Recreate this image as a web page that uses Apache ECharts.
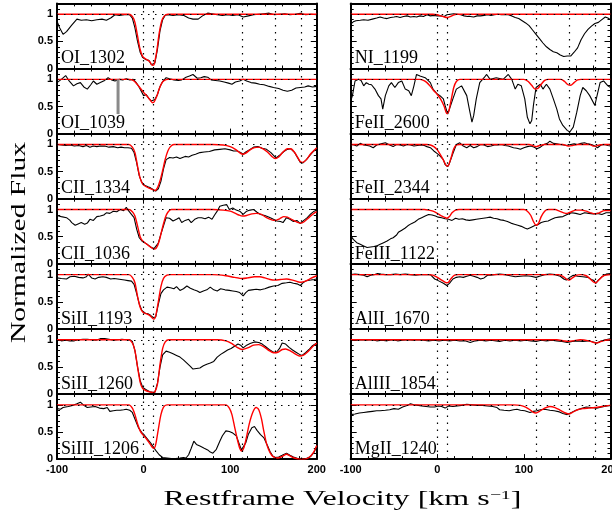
<!DOCTYPE html>
<html><head><meta charset="utf-8">
<script src="https://cdn.jsdelivr.net/npm/echarts@6/dist/echarts.min.js"></script>
<style>html,body{margin:0;padding:0;background:#fff;overflow:hidden}#c{width:612px;height:516px}</style>
</head><body><div id="c"></div>
<script>
// ---------------- DATA (velocity km/s, normalized flux) ----------------
const leftLabels  = ['OI_1302','OI_1039','CII_1334','CII_1036','SiII_1193','SiII_1260','SiIII_1206'];
const rightLabels = ['NI_1199','FeII_2600','FeII_2344','FeIII_1122','AlII_1670','AlIII_1854','MgII_1240'];
const velocityLines = [0, 11, 114, 152, 182];
const continuumLevel = 1;
const xTickLabels = [-100, 0, 100, 200];
const yTickLabels = [0, 0.5, 1];
const xTitleMain = 'Restframe Velocity [km s';
const xTitleSup = '\u22121';
const xTitleEnd = ']';
const yTitle = 'Normalized Flux';

const OI_1302_flux = [[-100,0.87],[-97,0.75],[-93,0.63],[-89,0.68],[-83,0.8],[-77,0.91],[-72,0.89],[-66,0.9],[-60,0.88],[-54,0.9],[-48,0.91],[-43,0.89],[-38,0.93],[-33,0.99],[-28,0.98],[-22,0.99],[-16,0.99],[-13,0.93],[-10,0.75],[-7,0.5],[-4,0.3],[-1,0.2],[3,0.16],[6,0.15],[9,0.07],[11,0.04],[13,0.1],[16,0.35],[19,0.7],[22,0.9],[25,0.98],[28,0.99],[34,0.98],[40,0.99],[46,0.98],[52,0.93],[57,0.91],[63,0.91],[68,0.97],[74,1.02],[79,1.01],[85,0.99],[91,0.98],[97,0.99],[103,0.98],[109,0.99],[115,0.95],[121,0.97],[127,0.99],[133,1.0],[139,1.01],[145,1.02],[151,0.99],[157,1.0],[163,1.01],[169,0.99],[175,1.0],[181,1.02],[187,0.99],[193,1.0],[200,0.99]];
const OI_1302_model = [[-100,1],[-17,1],[-13,0.96],[-10,0.85],[-7,0.6],[-4,0.35],[-1,0.22],[3,0.17],[7,0.13],[10,0.06],[12,0.07],[15,0.3],[18,0.65],[21,0.88],[24,0.97],[28,1],[60,1],[200,1]];

const OI_1039_flux = [[-100,0.94],[-95,1.0],[-90,1.07],[-86,0.97],[-81,0.88],[-77,0.92],[-73,0.94],[-69,0.86],[-65,0.82],[-61,0.9],[-58,0.97],[-54,0.91],[-50,0.94],[-45,0.98],[-41,1.03],[-37,0.99],[-33,0.97],[-28,1.0],[-24,0.99],[-20,1.01],[-16,0.99],[-12,1.0],[-9,0.95],[-6,0.88],[-3,0.79],[0,0.7],[3,0.72],[6,0.65],[9,0.6],[11,0.58],[13,0.63],[16,0.72],[19,0.87],[22,0.96],[26,1.03],[30,1.01],[35,0.99],[40,0.98],[44,0.99],[49,1.04],[53,1.06],[57,1.09],[62,1.02],[66,1.03],[70,1.05],[74,1.04],[78,0.99],[83,0.98],[88,0.97],[93,0.95],[98,0.93],[102,0.91],[106,0.95],[111,0.97],[115,1.0],[119,0.97],[124,0.94],[129,0.93],[134,0.91],[139,0.9],[145,0.87],[150,0.85],[156,0.83],[161,0.8],[166,0.78],[171,0.8],[176,0.84],[181,0.85],[186,0.86],[190,0.88],[195,0.86],[200,0.87]];
const OI_1039_model = [[-100,1],[-16,1],[-12,0.98],[-8,0.92],[-4,0.84],[0,0.76],[4,0.69],[8,0.61],[10,0.57],[12,0.58],[15,0.68],[18,0.82],[21,0.93],[24,0.98],[28,1],[60,1],[200,1]];
const OI_1039_blend = [[-29.5,1.0],[-29.5,0.36]];

const CII_1334_flux = [[-100,1.0],[-95,0.99],[-90,0.98],[-85,0.99],[-80,0.97],[-75,0.98],[-70,0.96],[-66,0.98],[-62,0.95],[-58,0.97],[-54,0.96],[-50,0.97],[-45,0.97],[-40,0.95],[-35,0.96],[-30,0.94],[-26,0.95],[-22,0.94],[-18,0.94],[-14,0.93],[-11,0.85],[-8,0.66],[-5,0.42],[-2,0.3],[1,0.25],[5,0.22],[8,0.2],[11,0.17],[14,0.14],[17,0.18],[20,0.32],[23,0.55],[26,0.72],[30,0.76],[34,0.75],[38,0.77],[42,0.74],[44,0.71],[48,0.78],[52,0.77],[56,0.8],[60,0.82],[65,0.85],[70,0.86],[76,0.87],[82,0.9],[88,0.91],[94,0.92],[100,0.9],[104,0.88],[108,0.88],[112,0.85],[115,0.82],[118,0.86],[122,0.9],[127,0.95],[132,0.96],[137,0.93],[142,0.91],[147,0.85],[150,0.8],[153,0.75],[157,0.8],[162,0.87],[166,0.91],[170,0.92],[174,0.86],[178,0.75],[181,0.67],[184,0.66],[188,0.72],[192,0.8],[196,0.87],[200,0.93]];
const CII_1334_model = [[-100,1],[-17,1],[-13,0.95],[-10,0.85],[-7,0.6],[-4,0.38],[-1,0.27],[3,0.22],[7,0.19],[10,0.17],[13,0.15],[16,0.2],[19,0.33],[22,0.52],[25,0.73],[28,0.88],[31,0.96],[35,1],[80,1],[92,0.99],[100,0.96],[106,0.91],[110,0.86],[114,0.82],[118,0.84],[123,0.9],[128,0.94],[133,0.95],[138,0.92],[143,0.86],[148,0.78],[152,0.74],[156,0.77],[161,0.86],[166,0.92],[170,0.92],[174,0.86],[178,0.76],[181,0.68],[184,0.67],[188,0.72],[193,0.83],[200,0.94]];

const CII_1036_flux = [[-100,0.89],[-95,0.87],[-89,0.85],[-85,0.8],[-83,0.76],[-79,0.71],[-75,0.74],[-72,0.76],[-68,0.73],[-65,0.75],[-62,0.82],[-58,0.8],[-54,0.87],[-50,0.88],[-46,0.9],[-43,0.94],[-39,0.93],[-35,0.97],[-31,0.96],[-27,1.0],[-23,0.98],[-20,1.04],[-17,0.97],[-14,0.91],[-11,0.85],[-8,0.64],[-5,0.48],[-2,0.42],[1,0.39],[5,0.35],[9,0.3],[12,0.28],[14,0.27],[17,0.38],[20,0.55],[23,0.7],[26,0.85],[30,0.84],[34,0.79],[38,0.82],[41,0.85],[44,0.76],[48,0.8],[52,0.82],[55,0.76],[59,0.82],[63,0.85],[67,0.85],[71,0.83],[75,0.86],[79,0.82],[82,0.9],[85,0.97],[88,1.06],[92,1.08],[96,1.09],[99,1.0],[103,1.03],[107,0.99],[111,0.97],[115,0.91],[119,0.97],[123,0.99],[127,1.0],[131,0.95],[135,0.91],[140,0.89],[145,0.86],[150,0.82],[154,0.79],[158,0.78],[161,0.76],[165,0.85],[169,0.82],[173,0.78],[177,0.8],[181,0.74],[185,0.8],[189,0.85],[193,0.92],[197,0.97],[200,0.99]];
const CII_1036_model = [[-100,1],[-17,1],[-13,0.96],[-10,0.88],[-7,0.7],[-4,0.5],[-1,0.42],[3,0.37],[7,0.32],[10,0.29],[13,0.27],[16,0.33],[19,0.48],[22,0.68],[25,0.85],[28,0.95],[32,1],[80,1],[92,0.99],[100,0.97],[106,0.93],[110,0.9],[114,0.88],[119,0.89],[125,0.92],[130,0.93],[136,0.91],[142,0.85],[148,0.81],[152,0.8],[157,0.83],[162,0.87],[166,0.86],[172,0.81],[177,0.77],[181,0.75],[185,0.77],[190,0.84],[195,0.91],[200,0.96]];

const SiII_1193_flux = [[-100,0.94],[-95,0.93],[-89,0.92],[-85,0.96],[-80,0.97],[-75,0.95],[-70,0.94],[-66,0.96],[-64,1.01],[-60,0.94],[-56,0.92],[-52,0.95],[-47,0.96],[-43,0.95],[-38,0.92],[-34,0.93],[-30,0.92],[-26,0.91],[-22,0.9],[-18,0.89],[-14,0.88],[-11,0.82],[-8,0.65],[-5,0.46],[-2,0.34],[2,0.29],[5,0.28],[8,0.25],[11,0.21],[12,0.18],[14,0.22],[17,0.45],[20,0.65],[23,0.72],[27,0.77],[31,0.76],[35,0.74],[38,0.78],[42,0.71],[46,0.74],[50,0.79],[54,0.75],[58,0.72],[62,0.7],[65,0.67],[69,0.7],[73,0.72],[77,0.77],[81,0.72],[85,0.7],[89,0.74],[94,0.72],[99,0.71],[103,0.7],[107,0.69],[111,0.67],[115,0.61],[118,0.67],[121,0.71],[125,0.72],[130,0.73],[135,0.72],[140,0.74],[145,0.77],[150,0.79],[155,0.8],[160,0.84],[165,0.85],[169,0.86],[173,0.84],[177,0.83],[181,0.8],[184,0.85],[188,0.89],[193,0.9],[197,0.91],[200,0.92]];
const SiII_1193_model = [[-100,1],[-17,1],[-13,0.95],[-10,0.85],[-7,0.6],[-4,0.4],[-1,0.31],[3,0.28],[7,0.25],[10,0.2],[12,0.18],[14,0.24],[17,0.5],[20,0.78],[23,0.93],[27,0.99],[31,1],[80,1],[95,0.98],[105,0.95],[114,0.93],[120,0.94],[128,0.96],[134,0.96],[140,0.94],[146,0.91],[152,0.9],[158,0.91],[165,0.92],[172,0.9],[178,0.87],[182,0.86],[187,0.88],[193,0.93],[200,0.98]];

const SiII_1260_flux = [[-100,1.0],[-95,0.98],[-90,0.99],[-85,0.98],[-80,0.98],[-75,1.0],[-70,1.01],[-65,1.01],[-60,1.0],[-55,0.99],[-50,1.02],[-45,1.02],[-40,1.01],[-35,0.99],[-30,1.0],[-25,1.01],[-20,1.0],[-16,1.0],[-13,0.97],[-10,0.8],[-7,0.5],[-4,0.25],[-1,0.12],[3,0.08],[7,0.04],[10,0.03],[13,0.03],[16,0.2],[19,0.5],[22,0.72],[26,0.79],[30,0.77],[34,0.74],[38,0.71],[42,0.68],[46,0.63],[50,0.57],[54,0.51],[57,0.46],[61,0.47],[65,0.48],[69,0.52],[73,0.55],[77,0.57],[81,0.6],[85,0.68],[89,0.73],[93,0.77],[97,0.81],[101,0.84],[105,0.88],[109,0.92],[112,0.9],[115,0.85],[119,0.9],[123,0.93],[128,0.96],[133,0.95],[137,0.92],[141,0.87],[145,0.82],[149,0.78],[153,0.76],[157,0.84],[160,0.94],[164,0.92],[168,0.86],[172,0.81],[176,0.77],[180,0.73],[183,0.71],[187,0.76],[191,0.82],[195,0.89],[200,0.94]];
const SiII_1260_model = [[-100,1],[-17,1],[-13,0.94],[-10,0.8],[-7,0.5],[-4,0.22],[-1,0.1],[3,0.06],[7,0.04],[10,0.03],[13,0.04],[16,0.18],[19,0.55],[22,0.84],[25,0.96],[29,1],[85,1],[95,0.98],[102,0.93],[108,0.86],[114,0.82],[120,0.85],[127,0.9],[133,0.91],[139,0.87],[145,0.8],[150,0.76],[155,0.77],[160,0.82],[164,0.83],[169,0.8],[175,0.74],[180,0.7],[184,0.71],[189,0.77],[195,0.87],[200,0.94]];

const SiIII_1206_flux = [[-100,0.93],[-96,0.92],[-93,0.95],[-87,0.97],[-82,0.99],[-77,1.02],[-73,1.05],[-69,0.99],[-65,0.95],[-61,0.96],[-56,0.97],[-51,0.94],[-46,0.93],[-42,0.95],[-39,0.88],[-35,0.89],[-31,0.9],[-27,0.9],[-23,0.91],[-20,0.92],[-16,0.9],[-13,0.86],[-10,0.74],[-6,0.58],[-2,0.49],[1,0.44],[4,0.38],[8,0.3],[11,0.23],[14,0.16],[18,0.08],[22,0.03],[27,0.02],[32,0.01],[37,0.01],[42,0.02],[46,0.03],[49,0.02],[52,0.08],[55,0.2],[58,0.33],[61,0.27],[65,0.24],[70,0.2],[74,0.17],[77,0.13],[80,0.11],[84,0.18],[88,0.33],[91,0.43],[95,0.52],[99,0.51],[103,0.48],[107,0.43],[110,0.3],[113,0.17],[115,0.15],[118,0.3],[121,0.46],[125,0.58],[128,0.6],[131,0.53],[135,0.45],[139,0.39],[143,0.25],[146,0.14],[149,0.06],[152,0.03],[156,0.04],[160,0.07],[165,0.11],[169,0.07],[173,0.04],[178,0.01],[183,0.0],[188,0.01],[193,0.05],[197,0.13],[200,0.24]];
const SiIII_1206_model = [[-100,1],[-17,1],[-13,0.94],[-10,0.82],[-7,0.65],[-4,0.52],[-1,0.45],[3,0.38],[7,0.29],[10,0.22],[12,0.2],[14,0.27],[17,0.55],[20,0.82],[23,0.96],[27,1],[95,1],[99,0.94],[102,0.82],[105,0.6],[108,0.38],[111,0.2],[113,0.15],[116,0.22],[119,0.42],[122,0.65],[126,0.86],[130,0.95],[133,0.91],[136,0.75],[139,0.5],[142,0.28],[146,0.12],[150,0.04],[155,0.02],[160,0.05],[165,0.09],[169,0.06],[174,0.02],[180,0.0],[186,0.0],[191,0.03],[196,0.12],[200,0.25]];

const NI_1199_flux = [[-100,0.82],[-97,0.86],[-94,0.88],[-89,0.89],[-85,0.9],[-80,0.89],[-75,0.91],[-70,0.93],[-66,0.95],[-62,0.93],[-58,0.92],[-54,0.94],[-50,0.95],[-47,0.96],[-43,0.94],[-39,0.96],[-35,0.97],[-31,0.95],[-27,0.96],[-24,0.95],[-20,0.97],[-16,0.96],[-12,0.99],[-8,0.97],[-4,0.98],[0,0.97],[4,0.97],[8,0.96],[11,0.99],[15,1.0],[19,1.01],[23,1.0],[27,0.99],[31,0.97],[35,0.96],[38,0.96],[42,0.95],[46,0.97],[50,0.97],[54,0.98],[58,0.99],[62,0.98],[66,0.99],[70,1.0],[74,0.99],[78,0.99],[82,0.99],[86,0.97],[90,0.94],[94,0.92],[98,0.88],[102,0.84],[106,0.79],[110,0.71],[114,0.63],[118,0.55],[122,0.47],[126,0.4],[130,0.35],[134,0.31],[138,0.29],[142,0.25],[146,0.22],[150,0.23],[154,0.23],[158,0.3],[162,0.38],[166,0.53],[170,0.64],[174,0.72],[178,0.78],[182,0.83],[186,0.85],[190,0.9],[194,0.95],[197,0.93],[200,0.9]];
const NI_1199_model = [[-100,1],[-5,1],[0,0.99],[4,0.97],[8,0.95],[11,0.94],[14,0.95],[18,0.98],[22,1],[60,1],[200,1]];

const FeII_2600_flux = [[-100,0.6],[-98,0.7],[-95,0.97],[-91,1.0],[-88,0.98],[-85,0.88],[-82,0.94],[-79,0.91],[-76,0.9],[-72,0.82],[-68,0.7],[-65,0.64],[-63,0.45],[-60,0.7],[-56,0.88],[-53,0.94],[-49,0.85],[-45,0.94],[-41,0.97],[-37,0.82],[-33,0.79],[-30,0.7],[-27,0.88],[-24,1.09],[-20,1.06],[-14,1.03],[-8,0.94],[-5,0.82],[0,0.73],[3,0.7],[7,0.64],[9,0.52],[12,0.36],[14,0.45],[18,0.64],[22,0.82],[28,0.88],[32,0.76],[34,0.7],[37,0.45],[40,0.21],[42,0.33],[45,0.64],[49,0.94],[54,1.03],[57,1.09],[61,1.0],[68,1.03],[76,1.0],[82,1.09],[86,1.0],[90,0.82],[93,0.91],[97,0.88],[101,0.64],[104,0.3],[107,0.18],[109,0.24],[111,0.52],[114,0.85],[119,0.91],[122,0.82],[126,0.91],[130,0.82],[134,0.64],[138,0.45],[141,0.27],[145,0.15],[150,0.06],[153,0.03],[157,0.12],[161,0.39],[165,0.7],[168,0.85],[172,0.79],[176,0.7],[182,0.52],[184,0.67],[188,0.94],[192,0.97],[197,0.88],[200,0.85]];
const FeII_2600_model = [[-100,1],[-20,1],[-16,0.98],[-12,0.94],[-8,0.87],[-4,0.79],[0,0.72],[4,0.63],[8,0.5],[11,0.37],[13,0.4],[16,0.62],[19,0.85],[22,0.96],[26,1],[60,1],[100,1],[105,0.96],[109,0.89],[113,0.82],[116,0.83],[120,0.91],[124,0.98],[128,1],[143,1],[147,0.96],[151,0.9],[154,0.89],[158,0.94],[162,0.99],[166,1],[200,1]];

const FeII_2344_flux = [[-100,1.0],[-96,0.99],[-93,0.97],[-89,1.02],[-85,0.99],[-81,0.98],[-78,0.97],[-74,0.94],[-70,0.99],[-65,1.01],[-60,1.03],[-55,0.99],[-51,0.96],[-47,1.0],[-43,0.99],[-39,0.97],[-35,1.0],[-31,0.99],[-27,0.97],[-23,0.98],[-19,0.99],[-15,0.98],[-12,0.96],[-8,0.94],[-4,0.88],[0,0.83],[3,0.79],[7,0.72],[9,0.63],[12,0.59],[14,0.65],[18,0.83],[22,1.0],[26,1.03],[30,0.97],[34,0.94],[38,0.98],[42,0.94],[46,0.96],[50,1.0],[54,0.99],[58,0.96],[62,0.97],[66,0.99],[70,0.99],[74,1.0],[78,0.98],[82,0.97],[88,0.94],[92,0.93],[96,0.91],[100,0.94],[104,0.96],[108,0.97],[112,0.95],[115,0.92],[119,0.95],[123,1.0],[127,1.02],[130,1.06],[134,1.02],[138,1.01],[142,1.0],[146,0.99],[150,0.98],[154,1.0],[158,1.01],[162,1.0],[166,1.02],[170,1.03],[174,1.01],[178,1.0],[182,0.97],[185,0.94],[189,0.99],[193,1.0],[197,0.98],[200,0.97]];
const FeII_2344_model = [[-100,1],[-12,1],[-8,0.99],[-4,0.96],[0,0.9],[4,0.8],[8,0.68],[11,0.6],[13,0.62],[16,0.76],[19,0.92],[22,0.99],[26,1],[60,1],[106,1],[110,0.98],[114,0.96],[118,0.98],[124,1],[145,1],[149,0.98],[152,0.97],[156,0.98],[162,1],[176,1],[180,0.97],[183,0.97],[187,0.99],[192,1],[200,1]];

const FeIII_1122_flux = [[-100,0.52],[-97,0.45],[-93,0.39],[-89,0.36],[-85,0.33],[-81,0.3],[-77,0.31],[-73,0.32],[-70,0.33],[-66,0.36],[-62,0.39],[-58,0.42],[-54,0.46],[-51,0.48],[-47,0.53],[-45,0.58],[-41,0.62],[-37,0.66],[-34,0.7],[-30,0.74],[-26,0.77],[-22,0.82],[-18,0.85],[-14,0.88],[-10,0.91],[-6,0.9],[-2,0.88],[1,0.86],[5,0.85],[9,0.83],[13,0.82],[17,0.8],[21,0.84],[25,0.82],[29,0.83],[33,0.81],[37,0.8],[41,0.81],[45,0.82],[49,0.83],[53,0.84],[57,0.85],[61,0.86],[65,0.84],[69,0.83],[73,0.81],[77,0.8],[81,0.78],[85,0.75],[89,0.73],[93,0.71],[97,0.69],[101,0.66],[104,0.64],[108,0.67],[112,0.7],[116,0.72],[120,0.76],[124,0.78],[128,0.79],[132,0.82],[136,0.85],[140,0.86],[145,0.87],[150,0.91],[155,0.94],[160,0.93],[165,0.91],[170,0.94],[175,0.93],[180,0.92],[185,0.93],[190,0.91],[195,0.94],[200,0.94]];
const FeIII_1122_model = [[-100,1],[-15,1],[-10,0.99],[-5,0.97],[0,0.93],[4,0.89],[8,0.86],[11,0.84],[14,0.87],[17,0.94],[21,0.99],[25,1],[60,1],[100,1],[104,0.97],[108,0.89],[111,0.78],[114,0.71],[117,0.75],[120,0.87],[124,0.97],[128,1],[136,1],[141,0.97],[146,0.94],[150,0.93],[155,0.96],[160,0.99],[166,0.99],[172,0.97],[177,0.94],[182,0.92],[187,0.94],[193,0.98],[200,0.98]];

const AlII_1670_flux = [[-100,1.0],[-95,1.01],[-89,1.0],[-85,0.99],[-81,0.96],[-77,0.99],[-73,1.0],[-69,1.02],[-65,1.01],[-60,1.0],[-54,1.0],[-48,1.01],[-43,1.0],[-37,1.01],[-31,1.0],[-25,0.99],[-20,1.0],[-14,1.0],[-8,1.0],[-3,0.92],[1,0.89],[3,0.88],[7,0.84],[11,0.8],[14,0.84],[18,0.92],[22,0.95],[26,0.96],[30,0.95],[34,0.97],[38,0.99],[42,0.97],[46,0.95],[50,0.92],[54,0.94],[58,0.99],[62,0.99],[66,1.0],[72,1.01],[78,1.0],[84,0.98],[90,0.96],[96,0.97],[102,0.98],[108,0.97],[114,0.95],[118,0.97],[124,1.0],[130,1.01],[136,1.0],[142,0.97],[146,0.92],[149,0.9],[153,0.95],[157,0.99],[162,0.97],[168,0.96],[174,0.95],[178,0.91],[181,0.89],[183,0.84],[186,0.9],[190,0.96],[195,1.01],[200,1.02]];
const AlII_1670_model = [[-100,1],[-10,1],[-5,0.99],[0,0.95],[4,0.91],[8,0.87],[11,0.85],[13,0.86],[16,0.93],[20,0.99],[24,1],[60,1],[140,1],[145,0.97],[149,0.92],[152,0.9],[156,0.94],[161,0.99],[166,1],[172,0.98],[176,0.93],[180,0.87],[183,0.85],[187,0.91],[192,0.98],[200,1]];

const AlIII_1854_flux = [[-100,1.0],[-94,0.99],[-88,1.0],[-82,0.99],[-76,1.0],[-70,0.98],[-64,0.99],[-58,0.98],[-52,1.0],[-46,0.98],[-40,0.99],[-34,1.0],[-28,0.99],[-22,1.0],[-16,0.99],[-10,0.98],[-4,0.99],[2,0.98],[8,0.99],[14,0.98],[20,0.99],[26,0.98],[32,0.98],[38,0.95],[44,0.98],[50,0.99],[56,0.98],[62,0.99],[68,0.98],[72,0.97],[78,0.99],[84,0.98],[90,0.99],[96,0.98],[102,0.99],[108,0.98],[114,0.97],[120,0.99],[126,0.98],[132,0.99],[138,0.98],[144,0.97],[150,0.95],[156,0.97],[162,0.98],[168,0.97],[174,0.98],[180,0.96],[184,0.94],[188,0.97],[194,1.0],[200,1.02]];
const AlIII_1854_model = [[-100,1],[60,1],[138,1],[146,0.98],[151,0.97],[157,0.98],[165,1],[175,0.98],[181,0.95],[184,0.94],[188,0.96],[194,0.99],[200,1]];

const MgII_1240_flux = [[-100,0.82],[-95,0.83],[-90,0.85],[-85,0.86],[-80,0.87],[-75,0.88],[-70,0.89],[-66,0.89],[-60,0.9],[-55,0.91],[-50,0.93],[-45,0.92],[-40,0.96],[-35,0.99],[-31,1.02],[-27,1.0],[-22,0.99],[-18,0.98],[-13,0.97],[-8,0.96],[-3,0.96],[1,0.98],[5,0.97],[9,0.94],[13,0.98],[18,0.97],[23,0.98],[28,0.99],[34,1.01],[40,1.0],[46,0.99],[52,0.99],[58,0.98],[64,0.97],[69,0.95],[72,0.91],[77,0.9],[83,0.89],[88,0.91],[92,0.92],[96,0.9],[101,0.89],[107,0.86],[111,0.88],[115,0.89],[119,0.91],[124,0.92],[130,0.9],[135,0.89],[141,0.87],[145,0.84],[150,0.82],[155,0.86],[160,0.9],[166,0.93],[172,0.96],[178,0.95],[184,0.94],[190,0.96],[196,0.98],[200,0.99]];
const MgII_1240_model = [[-100,1],[60,1],[88,1],[96,0.99],[102,0.96],[107,0.91],[111,0.86],[114,0.85],[118,0.88],[124,0.94],[130,0.97],[136,0.95],[142,0.9],[148,0.85],[152,0.83],[156,0.86],[162,0.91],[168,0.93],[175,0.94],[182,0.95],[190,0.97],[200,0.99]];

const fluxSets  = [OI_1302_flux, OI_1039_flux, CII_1334_flux, CII_1036_flux, SiII_1193_flux, SiII_1260_flux, SiIII_1206_flux,
                   NI_1199_flux, FeII_2600_flux, FeII_2344_flux, FeIII_1122_flux, AlII_1670_flux, AlIII_1854_flux, MgII_1240_flux];
const modelSets = [OI_1302_model, OI_1039_model, CII_1334_model, CII_1036_model, SiII_1193_model, SiII_1260_model, SiIII_1206_model,
                   NI_1199_model, FeII_2600_model, FeII_2344_model, FeIII_1122_model, AlII_1670_model, AlIII_1854_model, MgII_1240_model];
const labels = leftLabels.concat(rightLabels);

// ---------------- LAYOUT ----------------
const colLeft = [57, 350.7];
const gridW = 259.8;
const top0 = 3.4, panelH = 65.1;
const nRows = 7;

const grids = [], xAxes = [], yAxes = [], series = [], graphics = [];
const tickFont = {fontFamily: '"Liberation Sans", Arial, sans-serif', fontWeight: 'bold', fontSize: 11, color: '#000'};
const near = (a, b) => Math.abs(a - b) < 1e-6;

labels.forEach((lab, i) => {
  const col = Math.floor(i / nRows), row = i % nRows;
  const gl = colLeft[col], gt = top0 + row * panelH;
  grids.push({left: gl, top: gt, width: gridW, height: panelH, containLabel: false, outerBoundsMode: 'none'});
  const lastRow = row === nRows - 1;
  const baseX = {
    gridIndex: i, type: 'value', min: -100, max: 200, interval: 100,
    axisLine: {show: true, onZero: false, lineStyle: {color: '#000', width: 2}},
    axisTick: {show: true, inside: true, length: 5, lineStyle: {color: '#000', width: 1}},
    minorTick: {show: true, splitNumber: 5, length: 3, lineStyle: {color: '#000', width: 1}},
    splitLine: {show: false}, minorSplitLine: {show: false}
  };
  xAxes.push(Object.assign({}, baseX, {position: 'bottom',
    axisLabel: Object.assign({show: lastRow, margin: 5, hideOverlap: false,
      formatter: v => xTickLabels.some(t => near(t, v)) ? String(v) : ''}, tickFont)}));
  xAxes.push(Object.assign({}, baseX, {position: 'top', axisLabel: {show: false}}));

  const baseY = {
    gridIndex: i, type: 'value', min: 0, max: 1.2,
    splitLine: {show: false},
    axisTick: {show: true, inside: true, lineStyle: {color: '#000', width: 1}}
  };
  ['left', 'right'].forEach(pos => {
    yAxes.push(Object.assign({}, baseY, {position: pos, interval: 0.5,
      axisLine: {show: true, onZero: false, lineStyle: {color: '#000', width: 2}},
      axisTick: {show: true, inside: true, length: 6, lineStyle: {color: '#000', width: 1}},
      axisLabel: Object.assign({show: pos === 'left' && col === 0, margin: 4,
        formatter: v => yTickLabels.some(t => near(t, v)) ? String(v) : ''}, tickFont)}));
    yAxes.push(Object.assign({}, baseY, {position: pos, interval: 0.1,
      axisLine: {show: false, onZero: false},
      axisTick: {show: true, inside: true, length: 3, lineStyle: {color: '#000', width: 1}},
      axisLabel: {show: false}}));
  });

  const xi = 2 * i, yi = 4 * i;
  series.push({
    type: 'line', xAxisIndex: xi, yAxisIndex: yi, data: fluxSets[i],
    symbol: 'none', z: 2, lineStyle: {color: '#000', width: 1.1},
    markLine: {
      silent: true, symbol: 'none', animation: false, label: {show: false},
      lineStyle: {color: '#000', width: 1.2, type: [1.5, 5.5]},
      data: velocityLines.map(v => ({xAxis: v})).concat([{yAxis: continuumLevel}])
    }
  });
  series.push({
    type: 'line', xAxisIndex: xi, yAxisIndex: yi, data: modelSets[i], smooth: 0.25,
    symbol: 'none', z: 3, lineStyle: {color: '#ff0000', width: 1.4}
  });
  if (lab === 'OI_1039') {
    series.push({type: 'line', xAxisIndex: xi, yAxisIndex: yi, data: OI_1039_blend,
      symbol: 'none', z: 4, lineStyle: {color: '#8a8a8a', width: 3, cap: 'butt'}});
  }
  graphics.push({type: 'text', x: gl + 4, y: gt + panelH - 1, z: 10,
    style: {text: lab, font: '18px "Liberation Serif", "Times New Roman", serif', fill: '#000',
            align: 'left', verticalAlign: 'bottom'}});
});

// axis titles
function textWidth(t, font) { const c = document.createElement('canvas').getContext('2d'); c.font = font; return c.measureText(t).width; }
const serifFam = '"Liberation Serif", "Times New Roman", serif';
const titleFont = '21px ' + serifFam;
const supFont = '13px ' + serifFam;
const xW = textWidth(xTitleMain, titleFont) + textWidth(xTitleSup, supFont) + textWidth(xTitleEnd, titleFont);
const yW = textWidth(yTitle, titleFont);
graphics.push({type: 'text', x: 342.4, y: 499.5, scaleX: 358 / xW, z: 10,
  style: {text: xTitleMain + '{sup|' + xTitleSup + '}' + xTitleEnd,
          fontSize: 21, fontFamily: serifFam, fill: '#000', align: 'center', verticalAlign: 'middle',
          rich: {sup: {fontSize: 13, fontFamily: serifFam, fill: '#000', verticalAlign: 'top', lineHeight: 13}}}});
graphics.push({type: 'text', x: 19.8, y: 242.5, rotation: Math.PI / 2, scaleX: 201 / yW, z: 10,
  style: {text: yTitle, font: titleFont, fill: '#000', align: 'center', verticalAlign: 'middle'}});

const chart = echarts.init(document.getElementById('c'), null, {renderer: 'canvas'});
chart.setOption({
  animation: false, backgroundColor: '#fff',
  grid: grids, xAxis: xAxes, yAxis: yAxes, series: series, graphic: graphics
});
</script></body></html>
